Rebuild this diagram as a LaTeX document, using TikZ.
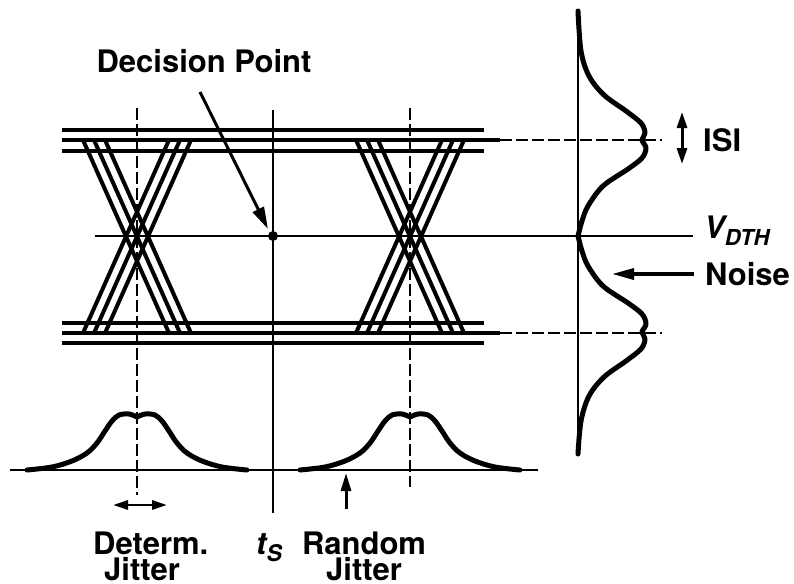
\documentclass[tikz,border=0pt]{standalone}
\usepackage{fontspec}
\setmainfont{TeX Gyre Heros}
\usetikzlibrary{arrows.meta}
\begin{document}
\begin{tikzpicture}[x=1pt,y=-1pt,
  rail/.style={line width=4.4pt},
  diag/.style={line width=4pt},
  thinline/.style={line width=2.3pt},
  dashline/.style={line width=2.4pt, dash pattern=on 12pt off 4pt},
  curve/.style={line width=5pt, line join=round, line cap=round},
  lbl/.style={font=\fontsize{31}{31}\selectfont\bfseries, inner sep=0pt},
  lbltwo/.style={font=\fontsize{31}{25.5}\selectfont\bfseries, inner sep=0pt},
  arr/.style={line width=3pt, -{Triangle[length=22pt,width=12pt]}},
  darr/.style={line width=3pt, {Triangle[length=16pt,width=10pt]}-{Triangle[length=16pt,width=10pt]}}
]
\useasboundingbox (0,0) rectangle (794,583);

% ---- rails ----
\foreach \y in {130,151,323,343} \draw[rail] (62,\y) -- (484,\y);
\foreach \y in {140,333} \draw[rail] (62,\y) -- (500,\y);
% ---- dashed level lines ----
\draw[dashline] (500,140) -- (662,140);
\draw[dashline] (500,333) -- (662,333);
% ---- threshold line ----
\draw[thinline] (95,236) -- (693,236);

% ---- eye crossings ----
\foreach \c in {137,410} {
  \foreach \k in {-11,0,11} {
    \draw[diag] (\c+\k-43,140) -- (\c+\k+43,333);
    \draw[diag] (\c+\k+43,140) -- (\c+\k-43,333);
  }
}

% ---- vertical lines ----
\draw[dashline] (137,108) -- (137,495);
\draw[dashline] (410,108) -- (410,487);
\draw[thinline] (273,110) -- (273,513);

% ---- time baseline ----
\draw[line width=2.8pt] (10,470) -- (538,470);

% ---- jitter distributions ----
\foreach \c in {137,410} {
  \begin{scope}[shift={(\c,470)}]
    \draw[curve] plot[smooth,tension=0.55] coordinates {(-110,0) (-85,-3) (-65,-9) (-50,-17) (-40,-27) (-32,-39) (-25,-49) (-18,-55) (-8,-56) (0,-53)};
    \draw[curve] plot[smooth,tension=0.55] coordinates {(0,-53) (8,-56) (18,-55) (25,-49) (32,-39) (40,-27) (50,-17) (65,-9) (85,-3) (110,0)};
  \end{scope}
}

% ---- noise distribution ----
\draw[line width=2.8pt] (578,9) -- (578,455);
\begin{scope}[shift={(578,236)}]
  \draw[curve] plot[smooth,tension=0.55] coordinates {(0,-225) (3,-185) (11,-160) (26,-141) (48,-125) (63,-113) (67,-103) (64,-96) (68,-88) (64,-78) (50,-67) (25,-50) (10,-30) (4,-15) (0,0)};
  \draw[curve] plot[smooth,tension=0.55] coordinates {(0,0) (4,15) (10,30) (25,50) (50,67) (64,78) (68,88) (64,96) (67,103) (63,113) (48,125) (26,141) (11,160) (3,185) (0,218)};
\end{scope}

% ---- decision point ----
\coordinate (dp) at (273,236);
\fill (dp) circle (5pt);
\node[lbl, anchor=base] (dptext) at (204,73) {Decision Point};
\coordinate (dptail) at (200,92);
\coordinate (dptip) at (268,229);
\draw[arr] (dptail) -- (dptip);

% ---- ISI ----
\coordinate (isitop) at (682,112);
\coordinate (isibot) at (682,164);
\draw[darr] (isitop) -- (isibot);
\node[lbl, anchor=base west] (isi) at (703,151) {ISI};

% ---- VDTH ----
\node[lbl, anchor=base west] (vdth) at (704,238) {\itshape V\raisebox{-7pt}{\fontsize{22}{22}\selectfont DTH}};

% ---- Noise ----
\node[lbl, anchor=base west] (noise) at (705,285) {Noise};
\coordinate (noisetail) at (694,274);
\coordinate (noisetip) at (612,274);
\draw[line width=3.4pt, -{Triangle[length=22pt,width=11pt]}] (noisetail) -- (noisetip);

% ---- bottom labels ----
\coordinate (djl) at (113,505);
\coordinate (djr) at (167,505);
\draw[line width=2.8pt, {Triangle[length=15pt,width=9pt]}-{Triangle[length=15pt,width=9pt]}] (djl) -- (djr);
\node[lbltwo, align=left, anchor=north west] (determ) at (93,532) {Determ.\\\hspace*{11pt}Jitter};

\node[lbl, anchor=base west] (ts) at (256,554) {\itshape t\raisebox{-7pt}{\fontsize{23}{23}\selectfont S}};
\node[lbltwo, align=center, anchor=north] (random) at (364,532) {Random\\Jitter};
\coordinate (rjtail) at (346,509);
\coordinate (rjtip) at (346,473);
\draw[line width=3pt, -{Triangle[length=18pt,width=10pt]}] (rjtail) -- (rjtip);
\end{tikzpicture}
\end{document}
